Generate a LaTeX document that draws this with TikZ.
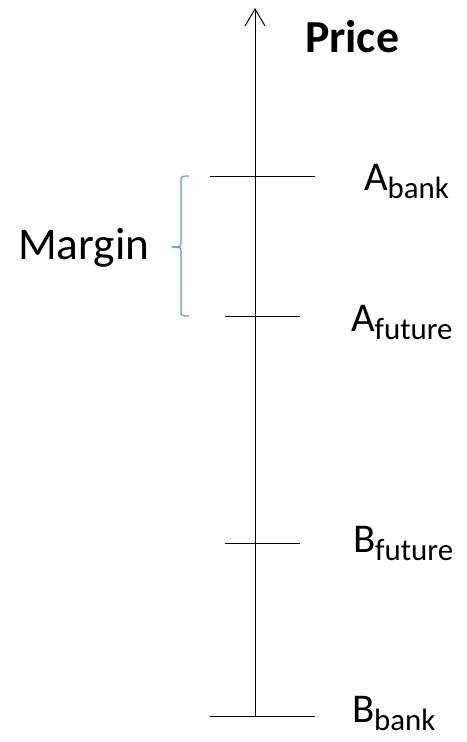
\documentclass[tikz,border=0pt]{standalone}
\usepackage{fontspec}
\setmainfont{Carlito}
\usetikzlibrary{arrows.meta}
\definecolor{braceblue}{RGB}{91,155,213}
\newcommand{\sublbl}[2]{{\fontsize{41}{48}\selectfont #1}\raisebox{-8bp}{\fontsize{31}{36}\selectfont #2}}
\tikzset{
  axisline/.style={line width=1bp, black},
  tickline/.style={line width=1bp, black},
  lbl/.style={anchor=base west, inner sep=0pt, outer sep=0pt},
  bracestyle/.style={line width=1.2bp, braceblue},
}
\begin{document}
\begin{tikzpicture}[x=1bp,y=-1bp]
\useasboundingbox (0,0) rectangle (467,742);
% axis
\coordinate (bot) at (255,716);
\coordinate (top) at (255,8);
\draw[axisline,-{Straight Barb[length=17bp,width=20bp,line width=1bp]}] (bot) -- (top);
% ticks
\coordinate (abL) at (210,176); \coordinate (abR) at (315,176);
\coordinate (afL) at (225,316); \coordinate (afR) at (300,316);
\coordinate (bfL) at (225,543); \coordinate (bfR) at (300,543);
\coordinate (bbL) at (210,716); \coordinate (bbR) at (315,716);
\draw[tickline] (abL) -- (abR);
\draw[tickline] (afL) -- (afR);
\draw[tickline] (bfL) -- (bfR);
\draw[tickline] (bbL) -- (bbR);
% labels
\node[lbl] (price) at (305,53) {\fontsize{46}{52}\selectfont\bfseries Price};
\node[lbl] (abank) at (364,190) {\sublbl{A}{bank}};
\node[lbl] (afut) at (351,331) {\sublbl{A}{future}};
\node[lbl] (bfut) at (353,552) {\sublbl{B}{future}};
\node[lbl] (bbank) at (352,722) {\sublbl{B}{bank}};
\node[lbl] (margin) at (18,259) {\fontsize{45.5}{52}\selectfont Margin};
% brace
\coordinate (brT) at (189,176);
\coordinate (brB) at (189,316);
\coordinate (brM) at (172,247);
\draw[bracestyle] (brT) to[out=180,in=90] (181,179) -- (181,244) to[out=-90,in=0] (brM);
\draw[bracestyle] (brB) to[out=180,in=-90] (181,313) -- (181,250) to[out=90,in=0] (brM);
\end{tikzpicture}
\end{document}
